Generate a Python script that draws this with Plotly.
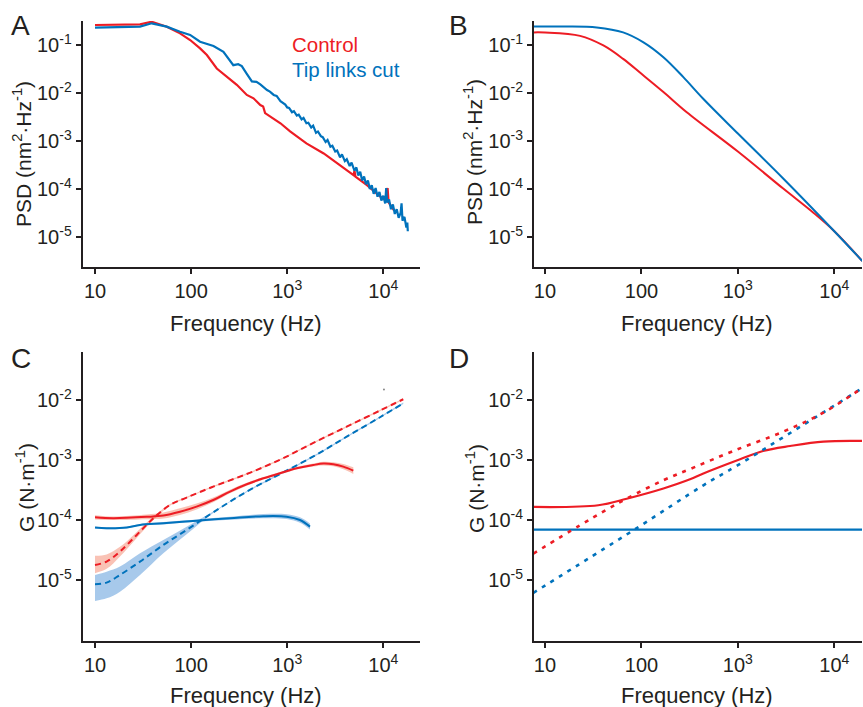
import plotly.graph_objects as go

RED = "#ED1C24"
BLUE = "#0072BC"
RED_BAND = "rgba(242,120,90,0.45)"
BLUE_BAND = "rgba(60,135,210,0.45)"
INK = "#231F20"
FONT = "Liberation Sans, Arial, Helvetica, sans-serif"

# ---------------- Panel A: measured PSD ----------------
a_ctrl_f = [10, 15.8, 29.4, 38.9, 55.8, 76.7, 97.7, 124, 146, 185, 236, 299, 380, 446,
            525, 562, 589, 719, 851, 1072, 1585, 2399, 3548, 4898, 5012, 5129, 6761,
            9333, 10720, 11090, 11350, 12300, 12880]
a_ctrl_psd = [0.261, 0.266, 0.270, 0.305, 0.241, 0.175, 0.127, 0.0851, 0.0617, 0.0324,
              0.0219, 0.0148, 0.00912, 0.00776, 0.00562, 0.00525, 0.0038, 0.00295,
              0.00234, 0.00158, 8.91e-4, 5.50e-4, 3.16e-4, 1.95e-4, 2.40e-4, 1.82e-4,
              1.20e-4, 6.92e-5, 5.75e-5, 1.05e-4, 5.25e-5, 4.27e-5, 3.63e-5]

a_cut_f = [10, 29.4, 38.9, 55.8, 76.7, 97.7, 124, 146, 171, 217, 275, 309, 337, 380,
           429, 479, 525, 617, 661, 724, 776, 851,
           891, 955, 1000, 1047, 1122, 1175, 1259, 1318, 1413, 1479, 1585, 1660, 1778,
           1862, 1995, 2089, 2239, 2344, 2512, 2630, 2818, 2951, 3162, 3311, 3548, 3715,
           3981, 4169, 4467, 4677, 5012, 5248, 5495, 5754, 6026, 6310, 6607, 6918, 7244,
           7586, 7943, 8318, 8710, 9120, 9550, 10000, 10470, 10720, 10960, 11480, 12020,
           12590, 13180, 13800, 14450, 15140, 15490, 15850, 16600, 17380, 17780, 17990]
a_cut_psd = [0.230, 0.241, 0.283, 0.241, 0.189, 0.162, 0.117, 0.104, 0.0955, 0.0724,
             0.038, 0.0398, 0.0363, 0.0251, 0.0174, 0.0170, 0.0151, 0.0115, 0.0107,
             0.00912, 0.0087, 0.00676,
             6.31e-3, 5.75e-3, 5.01e-3, 4.90e-3, 3.98e-3, 4.17e-3, 3.39e-3, 3.55e-3,
             2.82e-3, 3.02e-3, 2.34e-3, 2.40e-3, 1.91e-3, 2.09e-3, 1.48e-3, 1.58e-3,
             1.26e-3, 1.20e-3, 9.55e-4, 1.05e-3, 7.59e-4, 7.94e-4, 6.03e-4, 6.31e-4,
             4.57e-4, 5.25e-4, 3.80e-4, 4.17e-4, 3.02e-4, 3.55e-4, 2.40e-4, 2.82e-4,
             1.91e-4, 2.29e-4, 1.51e-4, 1.82e-4, 1.26e-4, 1.51e-4, 1.00e-4, 1.20e-4,
             7.94e-5, 1.05e-4, 6.92e-5, 8.71e-5, 5.75e-5, 7.24e-5, 5.01e-5, 1.05e-4,
             5.25e-5, 6.03e-5, 3.80e-5, 4.79e-5, 3.02e-5, 3.80e-5, 2.51e-5, 3.16e-5,
             5.01e-5, 2.19e-5, 2.63e-5, 1.58e-5, 2.00e-5, 1.32e-5]

# ---------------- Panel B: model PSD ----------------
b_cut_f = [7.59, 15.8, 34.4, 64.6, 105, 169, 272, 437, 1000, 2951, 10000, 19500]
b_cut_psd = [0.244, 0.243, 0.232, 0.183, 0.1135, 0.0555, 0.0214, 0.00759, 0.00143,
             1.66e-4, 1.32e-5, 3.16e-6]
b_ctrl_f = [7.59, 10, 23.1, 40.3, 64.6, 100, 169, 295, 1000, 2951, 6026, 10000, 19500]
b_ctrl_psd = [0.183, 0.182, 0.155, 0.0977, 0.0513, 0.0251, 0.0105, 0.00398, 6.03e-4,
              1.02e-4, 3.24e-5, 1.32e-5, 3.16e-6]

# ---------------- Panel C: measured G ----------------
c_ctrl_solid_f = [10, 15.5, 34.5, 51.4, 76.6, 114, 170, 254, 379, 565, 841, 1254, 1871,
                  2377, 3020, 3837, 4875]
c_ctrl_solid = [1.12e-4, 1.08e-4, 1.14e-4, 1.20e-4, 1.39e-4, 1.69e-4, 2.18e-4, 3.01e-4,
                3.98e-4, 5.01e-4, 6.07e-4, 7.36e-4, 8.36e-4, 8.80e-4, 8.58e-4, 7.84e-4,
                6.73e-4]
c_ctrl_solid_lo = [1.033e-4, 1.008e-4, 1.04e-4, 1.07e-4, 1.225e-4, 1.506e-4, 1.99e-4,
                   2.81e-4, 3.76e-4, 4.78e-4, 5.80e-4, 7.03e-4, 7.89e-4, 8.21e-4, 7.92e-4,
                   7.07e-4, 5.93e-4]
c_ctrl_solid_hi = [1.214e-4, 1.157e-4, 1.25e-4, 1.35e-4, 1.58e-4, 1.90e-4, 2.39e-4,
                   3.23e-4, 4.21e-4, 5.25e-4, 6.36e-4, 7.71e-4, 8.85e-4, 9.43e-4, 9.30e-4,
                   8.69e-4, 7.64e-4]

c_ctrl_dash_f = [10, 13.2, 18.2, 27.2, 40.5, 60.3, 89.9, 170, 379, 841, 1871, 4159, 9247,
                 16140]
c_ctrl_dash = [1.80e-5, 2.05e-5, 3.01e-5, 5.70e-5, 1.08e-4, 1.80e-4, 2.39e-4, 3.64e-4,
               5.90e-4, 1.02e-3, 1.95e-3, 3.63e-3, 6.76e-3, 1.04e-2]
c_ctrl_dash_lo = [1.31e-5, 1.55e-5, 2.50e-5, 5.08e-5, 1.008e-4, 1.739e-4, 2.325e-4,
                  3.54e-4, 5.74e-4, 9.92e-4, 1.897e-3, 3.53e-3, 6.58e-3, 1.012e-2]
c_ctrl_dash_hi = [2.57e-5, 2.70e-5, 3.61e-5, 6.40e-5, 1.157e-4, 1.863e-4, 2.457e-4,
                  3.74e-4, 6.07e-4, 1.049e-3, 2.005e-3, 3.73e-3, 6.95e-3, 1.069e-2]

c_cut_solid_f = [10, 13.2, 21.4, 29.4, 51.4, 114, 254, 565, 986, 1358, 1726]
c_cut_solid = [7.55e-5, 7.36e-5, 7.55e-5, 8.36e-5, 8.91e-5, 9.87e-5, 1.08e-4, 1.17e-4,
               1.15e-4, 1.01e-4, 7.84e-5]
c_cut_solid_lo = [7.29e-5, 7.11e-5, 7.29e-5, 8.08e-5, 8.51e-5, 9.43e-5, 1.02e-4,
                  1.079e-4, 1.049e-4, 9.11e-5, 6.99e-5]
c_cut_solid_hi = [7.82e-5, 7.62e-5, 7.82e-5, 8.65e-5, 9.33e-5, 1.033e-4, 1.144e-4,
                  1.268e-4, 1.26e-4, 1.12e-4, 8.8e-5]

c_cut_dash_f = [10, 13.2, 18.2, 29.4, 51.4, 89.9, 170, 379, 841, 1871, 4159, 9247, 16140]
c_cut_dash = [8.57e-6, 9.14e-6, 1.23e-5, 2.05e-5, 3.88e-5, 6.90e-5, 1.36e-4, 3.01e-4,
              5.90e-4, 1.16e-3, 2.47e-3, 5.22e-3, 8.91e-3]
c_cut_dash_lo = [4.53e-6, 5.0e-6, 6.47e-6, 1.23e-5, 2.82e-5, 5.85e-5, 1.32e-4, 2.93e-4,
                 5.74e-4, 1.128e-3, 2.40e-3, 5.08e-3, 8.67e-3]
c_cut_dash_hi = [1.23e-5, 1.39e-5, 1.69e-5, 2.82e-5, 4.70e-5, 7.84e-5, 1.40e-4, 3.09e-4,
                 6.07e-4, 1.193e-3, 2.54e-3, 5.37e-3, 9.16e-3]

c_speck_f = [10160]
c_speck_g = [1.52e-2]

# ---------------- Panel D: model G ----------------
d_ctrl_solid_f = [7.57, 35.7, 70.3, 169, 319, 439, 1054, 1820, 3475, 7709, 19720]
d_ctrl_solid = [1.67e-4, 1.78e-4, 2.29e-4, 3.39e-4, 4.82e-4, 6.03e-4, 1.04e-3, 1.43e-3,
                1.73e-3, 2.05e-3, 2.10e-3]
d_ctrl_dot_f = [7.57, 23.1, 43.7, 70.3, 169, 346, 897, 2965, 7709, 18540, 19720]
d_ctrl_dot = [2.78e-5, 8.26e-5, 1.51e-4, 2.30e-4, 4.65e-4, 7.55e-4, 1.43e-3, 3.01e-3,
              6.22e-3, 1.52e-2, 1.62e-2]
d_cut_solid_f = [7.57, 19720]
d_cut_solid = [7.0e-5, 7.0e-5]
d_cut_dot_f = [7.57, 82.4, 439, 1000, 18540, 19720]
d_cut_dot = [6.17e-6, 6.81e-5, 3.83e-4, 8.3e-4, 1.52e-2, 1.62e-2]

# ---------------- ticks ----------------
x_tickvals = [10, 100, 1000, 10000]
x_ticktext = ["10", "100", "10<sup>3</sup>", "10<sup>4</sup>"]
psd_tickvals = [1e-1, 1e-2, 1e-3, 1e-4, 1e-5]
psd_ticktext = ["10<sup>-1</sup>", "10<sup>-2</sup>", "10<sup>-3</sup>", "10<sup>-4</sup>", "10<sup>-5</sup>"]
g_tickvals = [1e-2, 1e-3, 1e-4, 1e-5]
g_ticktext = ["10<sup>-2</sup>", "10<sup>-3</sup>", "10<sup>-4</sup>", "10<sup>-5</sup>"]

fig = go.Figure()


def line(xs, ys, color, ax, dash="solid", width=2.0, shape="linear"):
    fig.add_trace(go.Scatter(x=xs, y=ys, mode="lines", xaxis=ax[0], yaxis=ax[1],
                             line=dict(color=color, width=width, dash=dash, shape=shape),
                             showlegend=False, hoverinfo="skip"))


def band(xs, lo, hi, color, ax):
    fig.add_trace(go.Scatter(x=xs, y=hi, mode="lines", xaxis=ax[0], yaxis=ax[1],
                             line=dict(width=0, shape="spline"), showlegend=False,
                             hoverinfo="skip"))
    fig.add_trace(go.Scatter(x=xs, y=lo, mode="lines", xaxis=ax[0], yaxis=ax[1],
                             line=dict(width=0, shape="spline"), fill="tonexty",
                             fillcolor=color, showlegend=False, hoverinfo="skip"))


A = ("x", "y")
B = ("x2", "y2")
C = ("x3", "y3")
D = ("x4", "y4")

# A
line(a_ctrl_f, a_ctrl_psd, RED, A, width=2.2)
line(a_cut_f, a_cut_psd, BLUE, A, width=2.2)

# B
line(b_ctrl_f, b_ctrl_psd, RED, B, shape="spline")
line(b_cut_f, b_cut_psd, BLUE, B, shape="spline")

# C
band(c_ctrl_dash_f, c_ctrl_dash_lo, c_ctrl_dash_hi, RED_BAND, C)
band(c_cut_dash_f, c_cut_dash_lo, c_cut_dash_hi, BLUE_BAND, C)
band(c_ctrl_solid_f, c_ctrl_solid_lo, c_ctrl_solid_hi, RED_BAND, C)
band(c_cut_solid_f, c_cut_solid_lo, c_cut_solid_hi, BLUE_BAND, C)
line(c_ctrl_dash_f, c_ctrl_dash, RED, C, dash="6px,4px", shape="spline")
line(c_cut_dash_f, c_cut_dash, BLUE, C, dash="6px,4px", shape="spline")
line(c_ctrl_solid_f, c_ctrl_solid, RED, C, shape="spline")
line(c_cut_solid_f, c_cut_solid, BLUE, C, shape="spline")
fig.add_trace(go.Scatter(x=c_speck_f, y=c_speck_g, mode="markers", xaxis="x3", yaxis="y3",
                         marker=dict(size=2, color="#888888"), showlegend=False,
                         hoverinfo="skip"))

# D
line(d_cut_solid_f, d_cut_solid, BLUE, D, width=2.2)
line(d_ctrl_solid_f, d_ctrl_solid, RED, D, width=2.2, shape="spline")
line(d_cut_dot_f, d_cut_dot, BLUE, D, dash="4px,6px", width=2.6, shape="spline")
line(d_ctrl_dot_f, d_ctrl_dot, RED, D, dash="4px,6px", width=2.6, shape="spline")

W, H = 863, 707


def px(x):
    return x / W


def py(y):
    return 1 - y / H


tickfont = dict(family=FONT, size=20, color=INK)


def xax(domain, rng, anchor):
    return dict(type="log", domain=domain, range=rng, anchor=anchor,
                tickvals=x_tickvals, ticktext=x_ticktext, ticks="outside",
                ticklen=5, tickwidth=1.6, tickcolor=INK, showline=True, linewidth=2,
                linecolor=INK, showgrid=False, zeroline=False, tickfont=tickfont)


def yax(domain, rng, anchor, vals, text):
    return dict(type="log", domain=domain, range=rng, anchor=anchor,
                tickvals=vals, ticktext=text, ticks="outside",
                ticklen=5, tickwidth=1.6, tickcolor=INK, showline=True, linewidth=2,
                linecolor=INK, showgrid=False, zeroline=False, tickfont=tickfont)


xl = [px(82.7), px(420)]
xr = [px(534), px(862)]
yt = [py(267), py(21)]
yb = [py(641), py(351.7)]

fig.update_layout(
    width=W, height=H, margin=dict(l=0, r=0, t=0, b=0),
    paper_bgcolor="white", plot_bgcolor="white",
    font=dict(family=FONT, color=INK),
    xaxis=xax(xl, [0.872, 4.382], "y"),
    yaxis=yax(yt, [-5.625, -0.5], "x", psd_tickvals, psd_ticktext),
    xaxis2=xax(xr, [0.886, 4.287], "y2"),
    yaxis2=yax(yt, [-5.625, -0.5], "x2", psd_tickvals, psd_ticktext),
    xaxis3=xax(xl, [0.872, 4.382], "y3"),
    yaxis3=yax(yb, [-6.012, -1.19], "x3", g_tickvals, g_ticktext),
    xaxis4=xax(xr, [0.886, 4.287], "y4"),
    yaxis4=yax(yb, [-6.012, -1.19], "x4", g_tickvals, g_ticktext),
)

ann = []


def text(x, y, s, size, color=INK, angle=0, xanchor="center"):
    ann.append(dict(x=px(x), y=py(y), xref="paper", yref="paper", text=s,
                    showarrow=False, textangle=angle, xanchor=xanchor, yanchor="middle",
                    font=dict(family=FONT, size=size, color=color)))


# panel letters
text(20, 25, "A", 28)
text(458, 25, "B", 28)
text(21, 358, "C", 28)
text(459, 358, "D", 28)
# x titles
for cx, cy in [(246, 323), (697, 323), (246, 695), (697, 695)]:
    text(cx, cy, "Frequency (Hz)", 22)
# y titles
text(22, 154, "PSD (nm<sup>2</sup>·Hz<sup>-1</sup>)", 21, angle=-90)
text(473, 152, "PSD (nm<sup>2</sup>·Hz<sup>-1</sup>)", 21, angle=-90)
text(25, 488, "G (N·m<sup>-1</sup>)", 21, angle=-90)
text(475, 488, "G (N·m<sup>-1</sup>)", 21, angle=-90)
# legend
text(290, 45, "Control", 20.5, color=RED, xanchor="left")
text(290, 69, "Tip links cut", 20.5, color=BLUE, xanchor="left")

fig.update_layout(annotations=ann)

fig.write_html("out.html",
               config={"displayModeBar": False},
               post_script="document.body.style.margin='0';document.body.style.padding='0';"
                           "document.body.style.overflow='hidden';")
